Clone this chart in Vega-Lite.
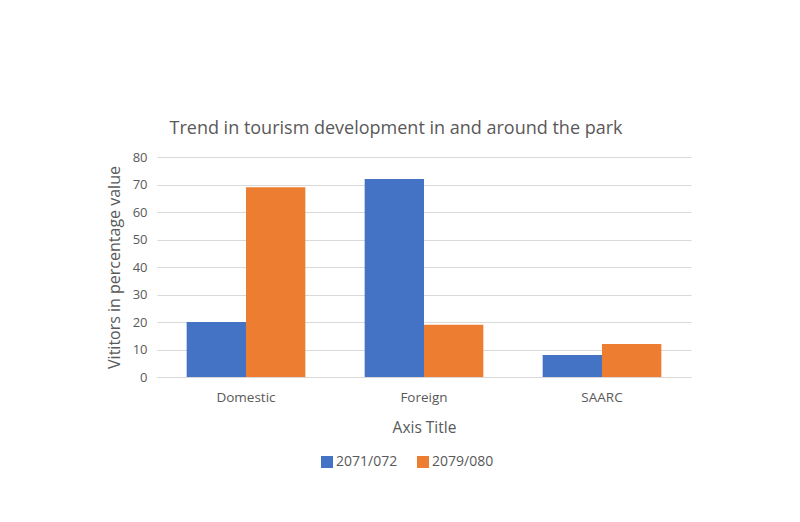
{
  "$schema": "https://vega.github.io/schema/vega-lite/v6.json",
  "width": 534,
  "height": 220,
  "autosize": {"type": "none"},
  "padding": {"left": 157, "top": 157, "right": 109, "bottom": 145},
  "background": "white",
  "title": {
    "text": "Trend in tourism development in and around the park",
    "anchor": "middle",
    "frame": "group",
    "dx": -28,
    "offset": -1,
    "baseline": "alphabetic",
    "fontSize": 18,
    "font": "Open Sans",
    "fontWeight": "normal",
    "color": "#595959"
  },
  "data": {
    "values": [
      {"category": "Domestic", "year": "2071/072", "value": 20},
      {"category": "Domestic", "year": "2079/080", "value": 69},
      {"category": "Foreign", "year": "2071/072", "value": 72},
      {"category": "Foreign", "year": "2079/080", "value": 19},
      {"category": "SAARC", "year": "2071/072", "value": 8},
      {"category": "SAARC", "year": "2079/080", "value": 12}
    ]
  },
  "mark": {"type": "bar"},
  "encoding": {
    "x": {
      "field": "category",
      "type": "nominal",
      "sort": ["Domestic", "Foreign", "SAARC"],
      "scale": {"paddingInner": 0.3333, "paddingOuter": 0.1667},
      "axis": {
        "title": "Axis Title",
        "labelAngle": 0,
        "ticks": false,
        "labelPadding": 13,
        "titlePadding": 17,
        "domainColor": "#d9d9d9",
        "labelColor": "#595959",
        "titleColor": "#595959",
        "labelFontSize": 13.5,
        "titleFontSize": 15.5,
        "titleFontWeight": "normal",
        "labelFont": "Open Sans",
        "titleFont": "Open Sans"
      }
    },
    "xOffset": {"field": "year", "type": "nominal", "scale": {"paddingInner": 0, "paddingOuter": 0}},
    "y": {
      "field": "value",
      "type": "quantitative",
      "scale": {"domain": [0, 80]},
      "axis": {
        "title": "Vititors in percentage value",
        "values": [0, 10, 20, 30, 40, 50, 60, 70, 80],
        "ticks": false,
        "domain": false,
        "labelPadding": 10,
        "titlePadding": 10,
        "gridColor": "#d9d9d9",
        "labelColor": "#595959",
        "titleColor": "#595959",
        "labelFontSize": 13,
        "titleFontSize": 16,
        "titleFontWeight": "normal",
        "labelFont": "Open Sans",
        "titleFont": "Open Sans"
      }
    },
    "color": {
      "field": "year",
      "type": "nominal",
      "scale": {"domain": ["2071/072", "2079/080"], "range": ["#4472C4", "#ED7D31"]},
      "legend": {
        "title": null,
        "orient": "none",
        "direction": "horizontal",
        "legendX": 163,
        "legendY": 298,
        "symbolType": "square",
        "symbolSize": 144,
        "symbolStrokeWidth": 0,
        "symbolOpacity": 1,
        "labelFontSize": 14,
        "labelFont": "Open Sans",
        "labelColor": "#595959",
        "labelOffset": 2,
        "columnPadding": 18
      }
    }
  },
  "config": {
    "view": {"stroke": null}
  }
}
